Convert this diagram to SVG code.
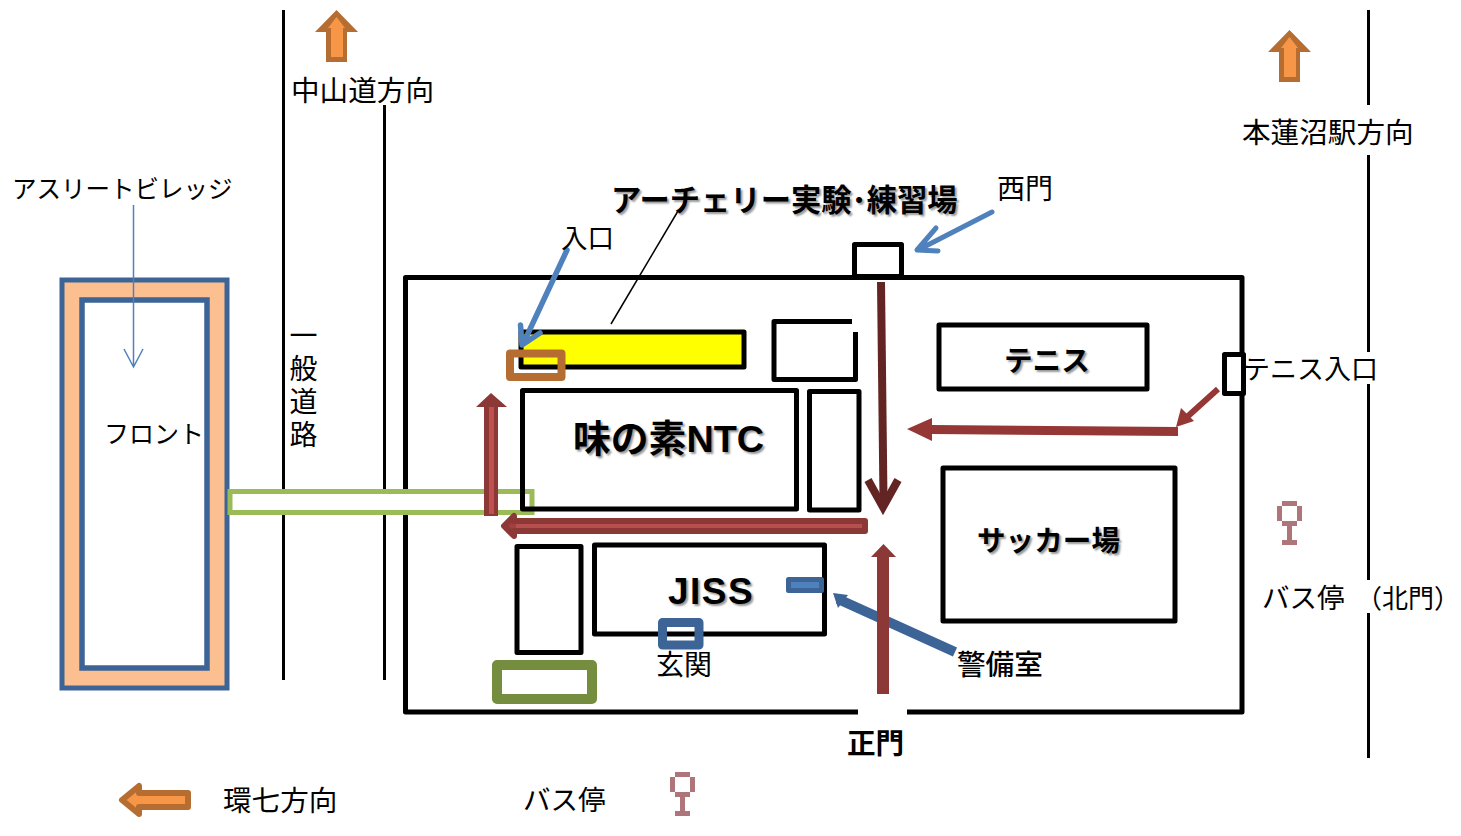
<svg xmlns="http://www.w3.org/2000/svg" width="1461" height="836" viewBox="0 0 1461 836">
<style>
text{font-family:"Noto Sans CJK JP","Liberation Sans",sans-serif;fill:#000;font-size:28.600px}
.b{fill:none;stroke:#000;stroke-width:5;stroke-linejoin:round}
.bw{fill:#fff;stroke:#000;stroke-width:5;stroke-linejoin:round}
.r{fill:none;stroke:#000;stroke-width:3}
.sh{font-weight:700;text-shadow:2px 2px 2px #999}
.bus{fill:none;stroke:#AE767A;stroke-width:5}
.org{fill:#F79646;stroke:#B66D31;stroke-width:6;stroke-linejoin:round}
.red{fill:#A33F3D;stroke:#8C3836;stroke-width:6;stroke-linejoin:round}
</style>
<rect width="1461" height="836" fill="#fff"/>
<g id="roads">
<path class="r" d="M283.500 10V680M384.500 105V680M1368.500 10V105M1368.500 155V352M1368.500 384V580M1368.500 613V758"/>
</g>
<g id="site">
<path class="b" d="M858 712H405.500V277.500H1242V712H907"/>
</g>
<g id="athlete-village">
<rect x="62" y="280" width="165" height="408" fill="#FCBF8F" stroke="#3C6496" stroke-width="5"/>
<rect x="82" y="300" width="125" height="368" fill="#fff" stroke="#3C6496" stroke-width="5.500"/>
<text x="104" y="443" style="font-size:25px">フロント</text>
</g>
<g id="corridor">
<rect x="230" y="491.500" width="302" height="21" fill="#fff" stroke="#9BBB59" stroke-width="5"/>
</g>
<g id="archery">
<rect x="521" y="332" width="223" height="35" fill="#FF0" stroke="#000" stroke-width="5" stroke-linejoin="round"/>
<rect x="510" y="353.500" width="51.500" height="23.500" fill="none" stroke="#B66D31" stroke-width="8" stroke-linejoin="round"/>
</g>
<g id="annex-1">
<path class="b" d="M852 321.500H774V379.500H855.500V332"/>
</g>
<g id="ntc">
<rect class="b" x="522.500" y="390.500" width="274" height="118.500"/>
<text class="sh" x="573" y="452" style="font-size:37.800px;font-family:'Liberation Sans','Noto Sans CJK JP',sans-serif">味の素NTC</text>
</g>
<g id="annex-2"><rect class="b" x="809.500" y="391.500" width="49.500" height="118.500"/></g>
<g id="tennis">
<rect class="b" x="939" y="325" width="208" height="64"/>
<text class="sh" x="1004" y="371">テニス</text>
</g>
<g id="soccer">
<rect class="b" x="943" y="468" width="232" height="153"/>
<text class="sh" x="977" y="551">サッカー場</text>
</g>
<g id="annex-3"><rect class="b" x="517" y="546.500" width="64" height="106"/></g>
<g id="jiss">
<rect class="b" x="594.500" y="545" width="230" height="89"/>
<text class="sh" x="668" y="604" style="font-size:37px;letter-spacing:1.500px;font-family:'Liberation Sans',sans-serif">JISS</text>
</g>
<g id="entrance-jiss"><rect x="662.500" y="622.500" width="36.500" height="22.500" fill="none" stroke="#3C6496" stroke-width="9" stroke-linejoin="round"/></g>
<g id="guard-room"><rect x="788.500" y="579.500" width="33" height="11" fill="#4F81BD" stroke="#3C6496" stroke-width="5" stroke-linejoin="round"/></g>
<g id="parking"><rect x="497" y="665" width="95" height="34" fill="none" stroke="#748D3E" stroke-width="10" stroke-linejoin="round"/></g>
<g id="west-gate"><rect class="bw" x="854.500" y="244.500" width="47" height="32"/></g>
<g id="tennis-gate"><rect class="bw" x="1224.500" y="354.500" width="19" height="39"/></g>
<g id="connectors">
<path d="M133.500 205V366M124 349L133.500 367L143 349" fill="none" stroke="#4F81BD" stroke-width="1.500"/>
<path d="M678 211L611 324" fill="none" stroke="#000" stroke-width="1.500"/>
<path d="M567 250L524 342M520.500 325L522 345L540 333" fill="none" stroke="#4F81BD" stroke-width="5.500" stroke-linecap="round" stroke-linejoin="round"/>
<path d="M992 212L918 250M936 228L917 250L938 251" fill="none" stroke="#4F81BD" stroke-width="5" stroke-linecap="round" stroke-linejoin="round"/>
<path d="M881 282L883.500 500" fill="none" stroke="#632523" stroke-width="8"/>
<path d="M868 480L883 507L898 480" fill="none" stroke="#632523" stroke-width="8" stroke-linejoin="miter"/>
<polygon points="872,489 883,510 894,489 883,495" fill="#632523"/>
<polygon class="red" points="865,521 865,531 514,531 514,536 504,526 514,516 514,521"/>
<rect x="516" y="524" width="346" height="4" fill="#B6504E"/>
<polygon points="484,516 484,407 476,407 491,393 507,407 498,407 498,516" fill="#8C3836"/>
<rect x="489" y="407" width="5" height="107" fill="#C0504D"/>
<polygon points="877,694 877,557 871,557 883.500,544 896,557 889,557 889,694" fill="#8C3836"/>
<path d="M955 652L838 599" fill="none" stroke="#3C6496" stroke-width="10"/>
<polygon points="833,593 848,595 838,608" fill="#3C6496"/>
<rect x="877" y="557" width="12" height="137" fill="#8C3836"/>
<polygon points="1178,436 1178,427 932,425 932,418 907,429 932,441 932,434" fill="#953735"/>
<path d="M1218 389L1187 417" fill="none" stroke="#953735" stroke-width="6"/>
<polygon points="1176,427 1181,408 1194,421" fill="#953735"/>
</g>
<g id="direction-arrows">
<polygon points="326,62 326,32 315,32 336.500,10 358,32 347,32 347,62" fill="#B66D31"/>
<polygon points="331,57 331,28 328,28 336.500,17 345,28 343,28 343,57" fill="#F79646"/>
<polygon points="1279,82 1279,52 1268,52 1289.500,30 1311,52 1300,52 1300,82" fill="#B66D31"/>
<polygon points="1284,77 1284,48 1281,48 1289.500,37 1298,48 1296,48 1296,77" fill="#F79646"/>
<polygon class="org" points="188,793 188,807 139,807 139,814 122,800 139,786 139,793"/>
</g>
<g id="bus-stops" shape-rendering="crispEdges">
<path class="bus" d="M1282 503.500H1297M1279.500 506V521M1299.500 506V521M1282 523.500H1297M1289.500 526V540M1282 542.500H1297"/>
<path class="bus" d="M675 774.500H690M672.500 777V792M692.500 777V792M675 794.500H690M682.500 797V811M675 813.500H690"/>
</g>
<g id="labels">
<text x="291" y="101">中山道方向</text>
<text x="1242" y="143">本蓮沼駅方向</text>
<text x="12" y="198" style="font-size:24.500px">アスリートビレッジ</text>
<text class="sh" x="611" y="211" style="font-size:30.300px">アーチェリー実験･練習場</text>
<text x="997" y="199" style="font-size:28px">西門</text>
<text x="561" y="248" style="font-size:26.500px">入口</text>
<text x="1243" y="379" style="font-size:27px">テニス入口</text>
<text x="1262" y="608" style="font-size:27.500px">バス停</text>
<text x="1356" y="608" style="font-size:26px">（北門）</text>
<text x="656" y="675" style="font-size:28px">玄関</text>
<text x="957" y="675" font-weight="500">警備室</text>
<text x="847" y="754" font-weight="700">正門</text>
<text x="223" y="811">環七方向</text>
<text x="523" y="810" style="font-size:27.500px">バス停</text>
<text x="303.500" y="321" style="font-size:28px;writing-mode:vertical-rl;letter-spacing:5px">一般道路</text>
</g>
</svg>
